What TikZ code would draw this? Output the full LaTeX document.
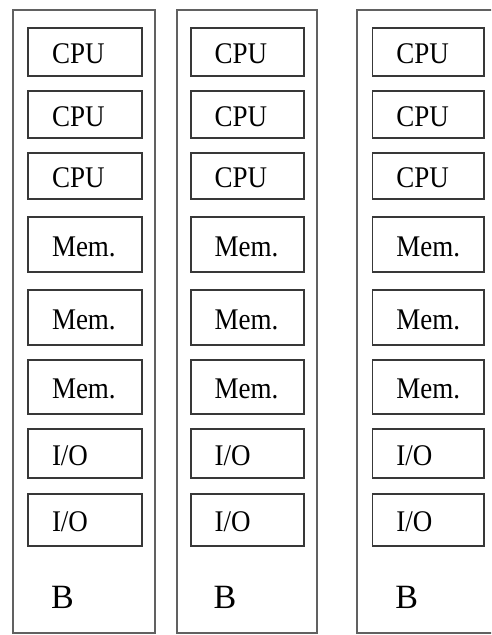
\documentclass[tikz,border=0pt]{standalone}
\usepackage{graphicx}
\usepackage{fontspec}
\setmainfont{Liberation Serif}
\newcommand{\narrow}[1]{\scalebox{0.9}[1]{#1}}
\begin{document}
\begin{tikzpicture}[x=1pt,y=-1pt,
  board/.style={draw=black!62,line width=1.7pt},
  unit/.style={draw=black!78,line width=1.7pt,anchor=north west,
    inner xsep=24pt,inner ysep=0pt,align=left,
    font=\fontsize{30}{34}\selectfont,text=black,
    text height=24pt,text depth=0pt},
  label/.style={anchor=west,inner sep=0pt,
    font=\fontsize{34}{38}\selectfont,text=black}]
  \clip (0,0) rectangle (491,635);
  \fill[white] (0,0) rectangle (491,635);
  % each board: outer left, outer right, unit left, unit right
  \foreach \name/\bl/\br/\ul/\ur in {a/12.7/155/26.3/141.7,
                                     b/176.7/317.3/189/304,
                                     c/356.7/505/370.7/484.3}{
    \draw[board] (\bl,10) rectangle (\br,633);
    \foreach \row/\top/\bot/\txt in {1/26/76/CPU,2/89/138/CPU,3/151/199/CPU,
                                     4/215/272/Mem.,5/288/345/Mem.,6/358/414/Mem.,
                                     7/427/478/{I/O},8/492/546/{I/O}}{
      \pgfmathsetmacro{\tw}{\ur-\ul-48-1.7}
      \pgfmathsetmacro{\h}{\bot-\top-1.7}
      \node[unit,minimum height=\h pt,text width=\tw pt] (\name\row)
        at (\ul+0.85,\top+0.85) {\narrow{\txt}};
    }
    \node[label] (\name B) at (\ul+24.5,597) {B};
  }
\end{tikzpicture}
\end{document}
